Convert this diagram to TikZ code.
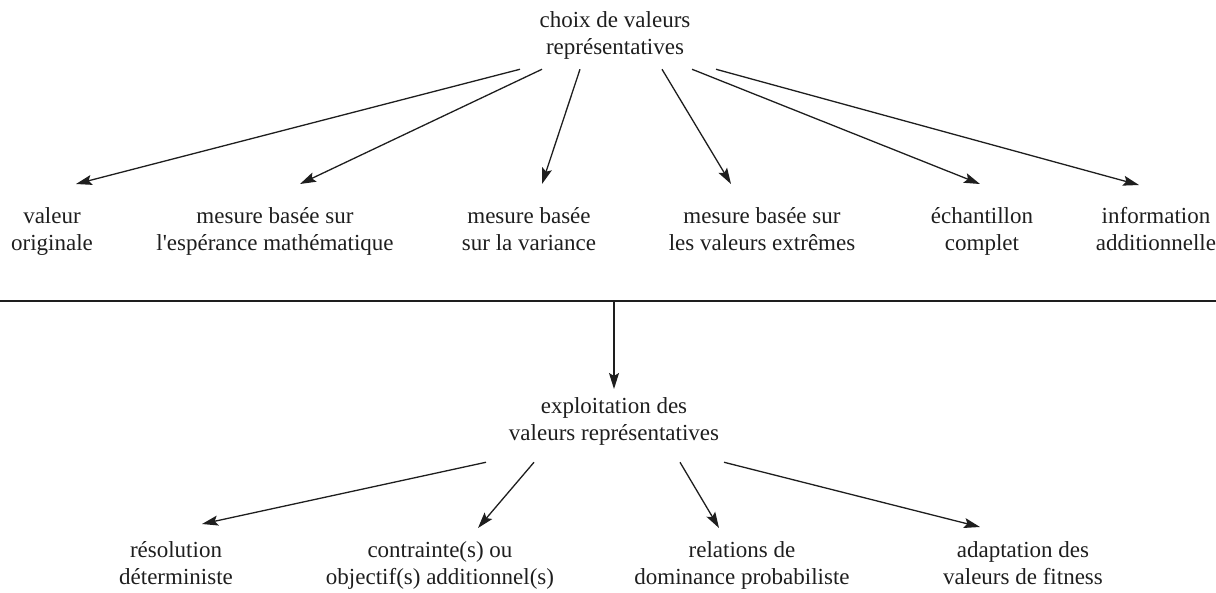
\documentclass[tikz,border=0pt]{standalone}
\usepackage{fontspec}
\setmainfont{Liberation Serif}[Ligatures=TeXOff]
\usepackage{tikz}
\usetikzlibrary{arrows.meta,calc}
\definecolor{ink}{RGB}{30,30,30}
\tikzset{
  lbl/.style={
    anchor=north, align=center, inner sep=0pt, text=ink,
    font=\fontsize{23}{27}\selectfont,
  },
  arr/.style={-{Stealth[length=16pt,width=10pt,inset=3pt]}, line width=1.3pt, draw=ink},
  rule/.style={line width=1.3pt, draw=ink},
}

\begin{document}
\begin{tikzpicture}[x=1pt,y=-1pt]
  \useasboundingbox (0,0) rectangle (1216,592);

  % choix des valeurs
  \node[lbl] (choix) at (615,11) {choix de valeurs\\représentatives};

  \node[lbl] (val) at (52,207)   {valeur\\originale};
  \node[lbl] (esp) at (275,207)  {mesure basée sur\\l'espérance mathématique};
  \node[lbl] (var) at (529,207)  {mesure basée\\sur la variance};
  \node[lbl] (ext) at (762,207)  {mesure basée sur\\les valeurs extrêmes};
  \node[lbl] (ech) at (982,207)  {échantillon\\complet};
  \node[lbl] (inf) at (1156,207) {information\\additionnelle};

  \draw[arr] ([xshift=-95pt,yshift=-10pt]choix.south) -- ([xshift=24pt,yshift=23pt]val.north);
  \draw[arr] ([xshift=-73pt,yshift=-10pt]choix.south) -- ([xshift=25pt,yshift=23pt]esp.north);
  \draw[arr] ([xshift=-35pt,yshift=-10pt]choix.south) -- ([xshift=13pt,yshift=23pt]var.north);
  \draw[arr] ([xshift=47pt,yshift=-10pt]choix.south) -- ([xshift=-31pt,yshift=23pt]ext.north);
  \draw[arr] ([xshift=77pt,yshift=-10pt]choix.south) -- ([xshift=-2pt,yshift=23pt]ech.north);
  \draw[arr] ([xshift=101pt,yshift=-10pt]choix.south) -- ([xshift=-17pt,yshift=22pt]inf.north);

  % separation
  \coordinate (ruleL) at (0,301);
  \coordinate (ruleR) at (1216,301);
  \coordinate (ruleM) at (614,301);
  \draw[rule] (ruleL) -- (ruleR);

  % exploitation des valeurs
  \node[lbl] (expl) at (614,397) {exploitation des\\valeurs représentatives};
  \draw[arr] (ruleM) -- ([yshift=8pt]expl.north);

  \node[lbl] (res) at (176,541)  {résolution\\déterministe};
  \node[lbl] (con) at (440,541)  {contrainte(s) ou\\objectif(s) additionnel(s)};
  \node[lbl] (rel) at (742,541)  {relations de\\dominance probabiliste};
  \node[lbl] (ada) at (1023,541) {adaptation des\\valeurs de fitness};

  \draw[arr] ([xshift=-128pt,yshift=-17pt]expl.south) -- ([xshift=26pt,yshift=17pt]res.north);
  \draw[arr] ([xshift=-80pt,yshift=-17pt]expl.south) -- ([xshift=38pt,yshift=13pt]con.north);
  \draw[arr] ([xshift=66pt,yshift=-17pt]expl.south) -- ([xshift=-23pt,yshift=13pt]rel.north);
  \draw[arr] ([xshift=110pt,yshift=-17pt]expl.south) -- ([xshift=-43pt,yshift=14pt]ada.north);
\end{tikzpicture}
\end{document}
